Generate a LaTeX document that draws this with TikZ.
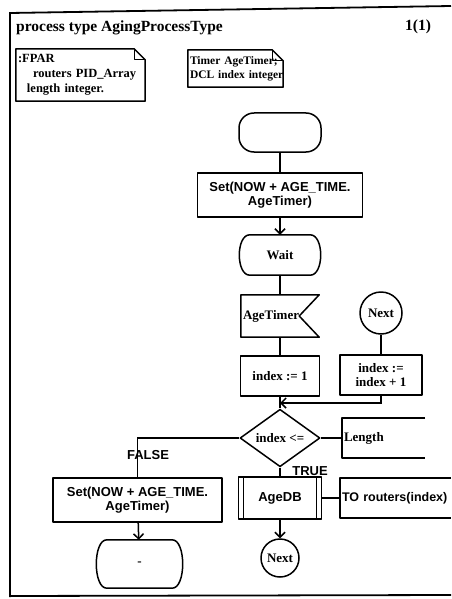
\documentclass[tikz,border=0pt]{standalone}
\usepackage{fontspec}
\setmainfont{Liberation Serif}
\setsansfont{Liberation Sans}
\usetikzlibrary{shapes.geometric,arrows.meta}

% text sizes used in the chart
\newcommand\flowtxt{\fontsize{13}{14.5}\selectfont\bfseries}
\newcommand\flowsans{\fontsize{13}{14.5}\selectfont\sffamily\bfseries}
\newcommand\headtxt{\fontsize{15.5}{17}\selectfont\bfseries}
\newcommand\notetxt{\fontsize{12.5}{15}\selectfont\bfseries}
\newcommand\decltxt{\fontsize{11.5}{14}\selectfont\bfseries}

% SDL state symbol: straight top and bottom, bulging sides
\newcommand\statesym[1]{%
  \draw[sym] ([xshift=10pt]#1.north west) -- ([xshift=-10pt]#1.north east)
    .. controls ([xshift=4pt]#1.north east) and ([xshift=4pt]#1.south east) .. ([xshift=-10pt]#1.south east)
    -- ([xshift=10pt]#1.south west)
    .. controls ([xshift=-4pt]#1.south west) and ([xshift=-4pt]#1.north west) .. ([xshift=10pt]#1.north west)
    -- cycle;}
% SDL input symbol: notch cut into the right side
\newcommand\inputsym[1]{%
  \draw[sym] (#1.north west) -- (#1.north east) -- ([xshift=-20pt]#1.east)
    -- (#1.south east) -- (#1.south west) -- cycle;}
% comment / declaration note with a folded corner
\newcommand\notesym[1]{%
  \draw[sym] (#1.north west) -- ([xshift=-11pt]#1.north east) -- ([yshift=-11pt]#1.north east)
    -- (#1.south east) -- (#1.south west) -- cycle;
  \draw[sym,line width=1.1pt] ([xshift=-11pt]#1.north east) -- ([xshift=-11pt,yshift=-11pt]#1.north east)
    -- ([yshift=-11pt]#1.north east);}
% text extension bracket, open on the right
\newcommand\bracketsym[1]{%
  \draw[sym] (#1.north east) -- (#1.north west) -- (#1.south west) -- (#1.south east);}
% procedure call: box with doubled side lines
\newcommand\procsym[1]{%
  \draw[sym] (#1.north west) rectangle (#1.south east);
  \draw[sym,line width=1.1pt] ([xshift=5pt]#1.north west) -- ([xshift=5pt]#1.south west);
  \draw[sym,line width=1.1pt] ([xshift=-5pt]#1.north east) -- ([xshift=-5pt]#1.south east);}

\tikzset{
  sym/.style={line width=1.5pt, line join=round},
  frame/.style={line width=1.8pt},
  flow/.style={line width=1.5pt},
  arr/.style={flow, -{Straight Barb[length=5pt,width=10pt]}},
  box/.style={draw, sym, rectangle, inner sep=0pt, align=center},
  shell/.style={rectangle, inner sep=0pt, align=center},
  leftshell/.style={rectangle, inner xsep=2pt, inner ysep=0pt, align=left},
  conn/.style={draw, sym, circle, inner sep=0pt},
  decision/.style={draw, sym, diamond, inner sep=0pt, minimum width=80pt, minimum height=40pt},
  lbl/.style={inner sep=0pt, font=\flowsans},
}

\begin{document}
\begin{tikzpicture}[x=1pt,y=-1pt]
\useasboundingbox (0,0) rectangle (451,599);

% diagram frame and heading
\draw[frame] (10,597) -- (10,13) -- (451,6);
\draw[frame] (10,596) -- (451,595);
\node[anchor=west, inner sep=0pt, font=\headtxt] (title) at (16,28) {process type AgingProcessType};
\node[inner sep=0pt, font=\headtxt] (page) at (418,27) {1(1)};

% declarations
\node[leftshell, text width=125pt, minimum height=52pt, font=\notetxt] (fpar) at (80.5,75)
  {:FPAR\\\hspace*{15pt}routers PID\_Array\\\hspace*{9pt}length integer.};
\notesym{fpar}
\node[leftshell, text width=91pt, minimum height=37pt, font=\decltxt] (decl) at (235.5,68.5)
  {\mbox{Timer AgeTimer;}\\\mbox{DCL index integer}};
\notesym{decl}

% main column
\node[box, rounded corners=15pt, minimum width=82pt, minimum height=39pt] (start) at (280,132.5) {};
\node[box, minimum width=165pt, minimum height=44pt, font=\flowsans] (set1) at (280,195)
  {Set(NOW + AGE\_TIME.\\AgeTimer)};
\node[shell, minimum width=80pt, minimum height=40pt, font=\flowtxt] (wait) at (280,255) {Wait};
\statesym{wait}
\node[leftshell, text width=74pt, minimum height=42pt, font=\flowtxt] (inp) at (280,316) {\mbox{AgeTimer}};
\inputsym{inp}
\node[box, minimum width=79pt, minimum height=40pt, font=\flowtxt] (init) at (280,376) {index := 1};

% loop re-entry
\node[conn, minimum size=42pt, font=\flowtxt] (nextA) at (381,313) {Next};
\node[box, minimum width=82pt, minimum height=40pt, font=\flowtxt] (incr) at (381,375) {index :=\\index + 1};
\coordinate (merge) at (280,403);

% loop test
\node[decision, font=\flowtxt] (test) at (280,438) {index <=};
\node[leftshell, text width=79pt, minimum height=40pt, font=\flowtxt] (limit) at (383.5,438) {Length};
\bracketsym{limit}

% FALSE branch
\node[box, minimum width=169pt, minimum height=44pt, font=\flowsans] (set2) at (137.5,500)
  {Set(NOW + AGE\_TIME.\\AgeTimer)};
\node[shell, minimum width=85pt, minimum height=48pt, font=\flowtxt] (stay) at (139.5,564) {-};
\statesym{stay}

% TRUE branch
\node[shell, minimum width=83pt, minimum height=42pt, font=\flowsans] (agedb) at (280,498) {AgeDB};
\procsym{agedb}
\node[leftshell, text width=107pt, minimum height=40pt, font=\flowsans\fontsize{12.5}{14}\selectfont] (dest) at (395.5,498)
  {\mbox{TO routers(index)}};
\bracketsym{dest}
\node[conn, minimum size=38pt, font=\flowtxt] (nextB) at (280,558) {Next};

% branch labels
\node[lbl] (lfalse) at (148,455) {FALSE};
\node[lbl] (ltrue) at (310,471) {TRUE};

% flow lines
\draw[flow] (start) -- (set1);
\draw[arr] (set1) -- (wait);
\draw[flow] (wait) -- (inp);
\draw[flow] (inp) -- (init);
\draw[flow] (init) -- (test);
\draw[flow] (nextA) -- (incr);
\draw[arr] (incr.south) |- (merge);
\draw[flow] (test.east) -- (limit.west);
\draw[flow] (test.west) -| (set2.north);
\draw[arr] (set2) -- (stay);
\draw[flow] (test.south) -- (agedb.north);
\draw[flow] (agedb.east) -- (dest.west);
\draw[arr] (agedb) -- (nextB);
\end{tikzpicture}
\end{document}
